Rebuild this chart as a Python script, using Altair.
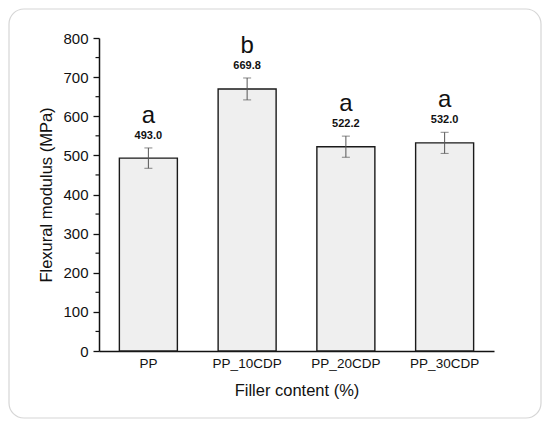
import altair as alt
import pandas as pd

categories = ["PP", "PP_10CDP", "PP_20CDP", "PP_30CDP"]
modulus = [493.0, 669.8, 522.2, 532.0]
errors = [26, 28, 27, 27]
value_labels = ["493.0", "669.8", "522.2", "532.0"]
letters = ["a", "b", "a", "a"]
major_ticks = [0, 100, 200, 300, 400, 500, 600, 700, 800]
minor_ticks = [50, 150, 250, 350, 450, 550, 650, 750]

df = pd.DataFrame({
    "cat": categories,
    "val": modulus,
    "err": errors,
    "label": value_labels,
    "letter": letters,
})
df["lo"] = df["val"] - df["err"]
df["hi"] = df["val"] + df["err"]

FONT = "Liberation Sans"

x_axis = alt.Axis(
    title="Filler content (%)",
    labelAngle=0,
    ticks=False,
    tickSize=0,
    labelPadding=5,
    labelFontSize=13.5,
    labelColor="#111",
    titleFontSize=16.5,
    titleFontWeight="normal",
    titleColor="#111",
    titlePadding=13,
    domainColor="#111",
    domainWidth=1.5,
    labelFont=FONT,
    titleFont=FONT,
)

y_axis = alt.Axis(
    title="Flexural modulus (MPa)",
    values=major_ticks,
    labelOverlap=False,
    grid=False,
    tickSize=6,
    tickColor="#111",
    tickWidth=1.3,
    domainColor="#111",
    domainWidth=1.5,
    labelPadding=5,
    labelFontSize=15,
    labelColor="#111",
    titleFontSize=16.5,
    titleFontWeight="normal",
    titleColor="#111",
    titlePadding=8,
    labelFont=FONT,
    titleFont=FONT,
)

x_scale = alt.Scale(paddingInner=0, paddingOuter=0)
y_scale = alt.Scale(domain=[0, 800], nice=False)


def xs():
    return alt.X("cat:N", sort=categories, scale=x_scale, axis=x_axis)


def ys(field):
    return alt.Y(field, scale=y_scale, axis=y_axis)


frame = alt.Chart(alt.Data(values=[{}])).mark_rect(
    fill="white", fillOpacity=0, stroke="#d6d6d6", strokeWidth=1.2, cornerRadius=15
).encode(
    x=alt.value(-90), x2=alt.value(442), y=alt.value(-29), y2=alt.value(380)
)

bars = alt.Chart(df).mark_bar(
    size=58, fill="#efefef", stroke="#1a1a1a", strokeWidth=1.4
).encode(
    x=xs(),
    y=ys("val:Q"),
)

minor = alt.Chart(pd.DataFrame({"m": minor_ticks})).mark_rule(
    color="#111", strokeWidth=1.2
).encode(
    y=ys("m:Q"),
    x=alt.value(-3.5),
    x2=alt.value(0),
)

err_rule = alt.Chart(df).mark_rule(color="#555", strokeWidth=1).encode(
    x=xs(),
    y=ys("lo:Q"),
    y2="hi:Q",
)
cap_lo = alt.Chart(df).mark_tick(color="#555", size=8, thickness=1).encode(
    x=xs(),
    y=ys("lo:Q"),
)
cap_hi = alt.Chart(df).mark_tick(color="#555", size=8, thickness=1).encode(
    x=xs(),
    y=ys("hi:Q"),
)

val_text = alt.Chart(df).mark_text(
    font=FONT, fontSize=11, fontWeight="bold", color="#111",
    baseline="middle", dy=-12,
).encode(
    x=xs(),
    y=ys("hi:Q"),
    text="label:N",
)

letter_text = alt.Chart(df).mark_text(
    font=FONT, fontSize=24, color="#111", baseline="alphabetic", dy=-25,
).encode(
    x=xs(),
    y=ys("hi:Q"),
    text="letter:N",
)

chart = alt.layer(
    frame, bars, minor, err_rule, cap_lo, cap_hi, val_text, letter_text
).properties(
    width=395,
    height=313,
    autosize=alt.AutoSizeParams(type="none"),
    padding={"left": 91, "top": 30, "right": 48, "bottom": 69},
    background="white",
).configure_view(stroke=None).configure_axis(labelOverlap=False)

chart.save("out.html", embed_options={"renderer": "svg", "actions": False})
